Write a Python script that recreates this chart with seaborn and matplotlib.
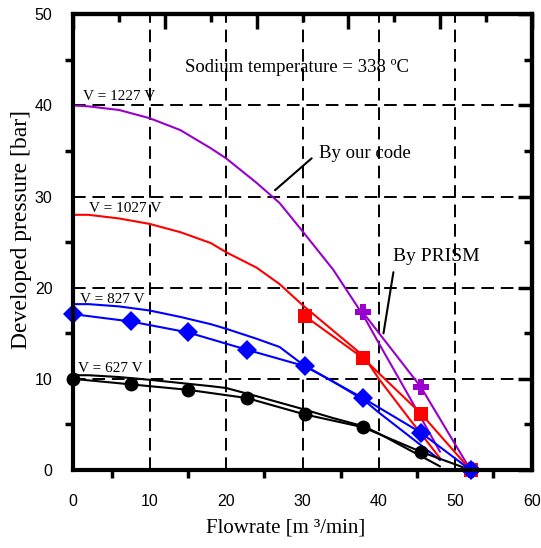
import matplotlib
matplotlib.use("Agg")
import matplotlib.pyplot as plt
import seaborn as sns
import numpy as np
from matplotlib.ticker import MultipleLocator, NullFormatter

# Pump curves: our code (plain lines) and PRISM (lines with markers)
flow_code = [0, 2, 6, 10, 14, 18, 20, 24, 27, 30, 34, 38, 40, 44, 48]
code_1227 = [40.0, 39.9, 39.5, 38.6, 37.3, 35.3, 34.2, 31.5, 29.3, 26.2, 22.0, 16.9, 13.9, 8.0, 2.0]
code_1027 = [28.0, 28.0, 27.6, 27.0, 26.1, 24.9, 23.9, 22.2, 20.4, 18.1, 15.3, 12.5, 10.0, 5.6, 1.3]
code_827 = [18.2, 18.2, 17.95, 17.5, 16.8, 16.0, 15.5, 14.4, 13.5, 11.6, 9.7, 7.7, 6.3, 3.7, 1.1]
code_627 = [10.4, 10.4, 10.2, 9.9, 9.55, 9.2, 9.0, 8.1, 7.4, 6.7, 5.7, 4.8, 4.0, 2.2, 0.4]

flow_prism = [0, 7.5, 15, 22.7, 30.3, 37.9, 45.5, 52]
prism_627 = [10.0, 9.4, 8.8, 7.9, 6.1, 4.7, 2.0, 0]
prism_827 = [17.1, 16.3, 15.1, 13.2, 11.4, 7.9, 4.1, 0]
flow_prism_1027 = [30.3, 37.9, 45.5, 52]
prism_1027 = [16.9, 12.3, 6.2, 0]
flow_prism_1227 = [37.9, 45.5, 52]
prism_1227 = [17.3, 9.1, 0]

voltage_labels = ["V = 1227 V", "V = 1027 V", "V = 827 V", "V = 627 V"]

purple = "#9900CC"
red = "#FF0000"
blue = "#0000FF"

sns.set_style("white")
plt.rcParams["font.family"] = ["Liberation Sans", "DejaVu Sans"]
plt.rcParams["text.color"] = "black"
plt.rcParams["axes.labelcolor"] = "black"
plt.rcParams["xtick.color"] = "black"
plt.rcParams["ytick.color"] = "black"
serif = ["Liberation Serif", "DejaVu Serif"]

fig = plt.figure(figsize=(5.41, 5.48), dpi=100)
ax = fig.add_axes([0.1355, 0.1423, 0.8473, 0.8316])

# our code
for vals, col in [(code_1227, purple), (code_1027, red), (code_827, blue), (code_627, "black")]:
    sns.lineplot(x=flow_code, y=vals, ax=ax, color=col, lw=1.5, sort=False, estimator=None)

# PRISM
sns.lineplot(x=flow_prism, y=prism_627, ax=ax, color="black", lw=1.5, sort=False, estimator=None,
             marker="o", markersize=10, markeredgecolor="black", markeredgewidth=0, clip_on=False)
sns.lineplot(x=flow_prism_1227, y=prism_1227, ax=ax, color=purple, lw=1.5, sort=False, estimator=None,
             marker="P", markersize=11.5, markeredgecolor=purple, markeredgewidth=0, clip_on=False)
sns.lineplot(x=flow_prism_1027, y=prism_1027, ax=ax, color=red, lw=1.5, sort=False, estimator=None,
             marker="s", markersize=10.5, markeredgecolor=red, markeredgewidth=0, clip_on=False)
sns.lineplot(x=flow_prism, y=prism_827, ax=ax, color=blue, lw=1.5, sort=False, estimator=None,
             marker="D", markersize=10.5, markeredgecolor=blue, markeredgewidth=0, clip_on=False)

ax.set_xlim(0, 60)
ax.set_ylim(0, 50)
ax.xaxis.set_major_locator(MultipleLocator(10))
ax.xaxis.set_minor_locator(MultipleLocator(5))
ax.yaxis.set_major_locator(MultipleLocator(10))
ax.yaxis.set_minor_locator(MultipleLocator(5))
ax.grid(True, which="major", color="black", linestyle=(0, (6.5, 3.5)), lw=1.4)
ax.set_axisbelow(True)

for s in ax.spines.values():
    s.set_linewidth(3)
    s.set_color("black")

ax.tick_params(which="major", direction="out", length=11, width=2.5, color="black",
               labelsize=11.5, labelcolor="black", top=False, right=False)
ax.tick_params(axis="x", which="major", pad=6)
ax.tick_params(axis="y", which="major", pad=4)
ax.tick_params(which="minor", direction="out", length=6, width=2.5, color="black",
               bottom=True, left=True, top=False, right=False)

# top axis ticks (different spacing, inward, no labels)
top = ax.secondary_xaxis("top", functions=(lambda v: v * 50 / 60, lambda v: v * 60 / 50))
top.xaxis.set_major_locator(MultipleLocator(10))
top.xaxis.set_minor_locator(MultipleLocator(5))
top.xaxis.set_major_formatter(NullFormatter())
top.tick_params(which="major", direction="in", length=11, width=2.5, color="black")
top.tick_params(which="minor", direction="in", length=6, width=2.5, color="black")
top.spines["top"].set_linewidth(3)
top.spines["top"].set_color("black")

right = ax.secondary_yaxis("right")
right.yaxis.set_major_locator(MultipleLocator(10))
right.yaxis.set_minor_locator(MultipleLocator(5))
right.yaxis.set_major_formatter(NullFormatter())
right.tick_params(which="major", direction="in", length=10, width=2.5, color="black")
right.tick_params(which="minor", direction="in", length=6, width=2.5, color="black")
right.spines["right"].set_linewidth(3)
right.spines["right"].set_color("black")

ax.set_xlabel("Flowrate [m \u00b3/min]", family=serif, fontsize=15)
ax.set_ylabel("Developed pressure [bar]", family=serif, fontsize=17)
ax.xaxis.set_label_coords(0.464, -0.127)
ax.xaxis.label.set_va("center")
ax.yaxis.set_label_coords(-0.112, 0.527)
ax.yaxis.label.set_va("center")

ax.text(14.6, 44.2, "Sodium temperature = 338 \u00baC", family=serif, fontsize=13.5, va="center")
for (x, y), lab in zip([(1.3, 40.6), (2.0, 28.3), (0.9, 18.3), (0.65, 10.8)], voltage_labels):
    ax.text(x, y, lab, family=serif, fontsize=11, va="baseline")

ax.plot([26.4, 31.2], [30.7, 34.2], color="black", lw=1.5)
ax.text(32.1, 34.7, "By our code", family=serif, fontsize=13.5, va="center")
ax.plot([41.9, 40.6], [21.7, 15.0], color="black", lw=1.5)
ax.text(41.9, 23.4, "By PRISM", family=serif, fontsize=14, va="center")

fig.savefig("out.png", dpi=100)
